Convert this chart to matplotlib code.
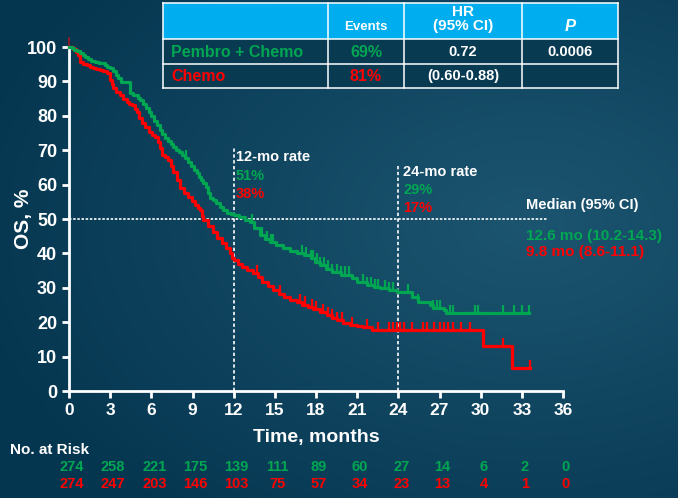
import numpy as np
import matplotlib
matplotlib.use("Agg")
import matplotlib.pyplot as plt
from matplotlib.patches import Rectangle

plt.rcParams['font.family'] = ['Liberation Sans', 'DejaVu Sans']

GREEN = '#00A651'
RED = '#FF0000'
WHITE = '#FFFFFF'
HEADER_BLUE = '#00AEEF'

# Kaplan-Meier step points (months, survival %)
pembro_t = [0, 0.2, 0.4, 0.6, 0.8, 1.0, 1.2, 1.4, 1.6, 1.9, 2.2, 2.6, 2.8, 3.0, 3.2, 3.4,
            3.6, 3.8, 4.45, 4.7, 5.0, 5.2, 5.4, 5.6, 5.8, 6.0, 6.2, 6.4, 6.6, 6.8, 7.0,
            7.2, 7.4, 7.6, 7.8, 8.0, 8.2, 8.45, 8.7, 8.9, 9.1, 9.3, 9.5, 9.65, 9.8, 9.95,
            10.1, 10.3, 10.5, 10.7, 11.0, 11.25, 11.5, 11.8, 12.0, 12.4, 12.8, 13.2, 13.5,
            13.9, 14.3, 14.65, 15.1, 15.6, 16.1, 16.6, 17.1, 17.6, 17.9, 18.3, 18.7, 19.2,
            19.8, 20.6, 21.0, 21.7, 22.2, 22.7, 23.3, 23.9, 25.0, 25.4, 26.3, 26.5, 27.3,
            27.5, 33.5]
pembro_s = [100, 99.6, 99.2, 98.8, 98.3, 97.8, 97.2, 96.5, 95.9, 95.6, 95.3, 94.8, 94.3, 93.9,
            93.0, 92.0, 91.0, 89.8, 86.6, 86.0, 85.2, 84.6, 83.5, 82.2, 81.0, 79.8, 78.6,
            77.3, 76.0, 74.8, 73.5, 72.6, 71.8, 71.0, 70.2, 69.4, 68.6, 67.7, 66.5, 65.3,
            64.3, 63.4, 62.2, 61.4, 60.5, 59.2, 57.6, 56.1, 55.4, 54.6, 53.5, 52.6, 51.7,
            51.4, 51.2, 50.7, 49.8, 49.0, 47.5, 45.3, 44.2, 43.3, 42.4, 41.6, 40.8, 40.1,
            39.4, 38.7, 37.6, 36.6, 35.6, 34.5, 33.8, 32.8, 31.7, 30.8, 30.3, 29.9, 29.3,
            28.8, 27.3, 25.9, 25.0, 24.1, 23.5, 22.7, 22.7]
chemo_t = [0, 0.3, 0.5, 0.65, 0.8, 1.0, 1.3, 1.5, 1.75, 2.0, 2.26, 2.5, 2.8, 3.0, 3.1, 3.2,
           3.45, 3.7, 3.95, 4.2, 4.4, 4.6, 4.8, 4.95, 5.1, 5.3, 5.55, 5.8, 6.05, 6.3, 6.5,
           6.65, 6.8, 7.0, 7.2, 7.4, 7.6, 7.85, 8.1, 8.4, 8.7, 8.95, 9.2, 9.4, 9.55, 9.7,
           9.8, 10.15, 10.5, 10.8, 11.15, 11.45, 11.7, 11.9, 12.0, 12.3, 12.6, 13.0, 13.4,
           13.75, 14.1, 14.5, 14.9, 15.3, 15.7, 16.1, 16.6, 17.0, 17.4, 17.8, 18.3, 18.8,
           19.15, 19.5, 20.0, 20.5, 21.0, 21.4, 22.1, 30.2, 32.3, 33.6]
chemo_s = [100, 99.4, 98.6, 97.7, 95.6, 95.2, 94.8, 94.3, 93.9, 93.6, 93.3, 92.9, 92.4, 90.4,
           89.2, 88.0, 87.0, 86.0, 85.0, 84.0, 83.5, 83.0, 82.0, 81.0, 79.5, 77.9, 76.6,
           75.3, 74.5, 73.8, 72.4, 70.5, 68.6, 67.9, 67.2, 65.4, 63.7, 61.3, 59.0, 57.7,
           56.4, 55.2, 54.0, 53.3, 52.6, 51.0, 49.7, 47.9, 46.2, 44.6, 43.0, 41.5, 40.1,
           38.8, 38.0, 37.0, 36.0, 35.1, 34.3, 33.0, 31.7, 30.5, 29.4, 28.3, 27.3, 26.5,
           25.9, 25.1, 24.4, 23.7, 23.0, 22.1, 21.3, 20.6, 19.9, 19.2, 18.9, 18.6, 17.7,
           13.1, 6.7, 6.7]

# Censoring times (months)
pembro_cens = [8.5, 13.3, 14.1, 14.4, 14.7, 14.9, 17.0, 17.3, 17.6, 17.8, 18.1, 18.3, 18.6,
               18.9, 19.2, 19.5, 19.8, 20.1, 20.4, 21.4, 21.7, 22.0, 22.3, 22.5, 23.0, 23.3,
               23.6, 24.7, 25.4, 26.5, 26.8, 27.0, 27.8, 28.0, 29.6, 29.8, 31.6, 32.4, 33.0, 33.5]
chemo_cens = [13.7, 15.4, 16.8, 17.2, 17.7, 18.0, 18.5, 18.9, 19.2, 19.5, 19.9, 20.6, 21.7,
              22.5, 23.3, 23.6, 23.9, 24.1, 24.4, 25.0, 25.8, 26.1, 26.6, 27.0, 27.3, 27.6,
              28.0, 28.6, 29.2, 31.6, 33.6]

# Number at risk
risk_times = [0, 3, 6, 9, 12, 15, 18, 21, 24, 27, 30, 33, 36]
risk_pembro = [274, 258, 221, 175, 139, 111, 89, 60, 27, 14, 6, 2, 0]
risk_chemo = [274, 247, 203, 146, 103, 75, 57, 34, 23, 13, 4, 1, 0]

xticks = list(range(0, 37, 3))
yticks = list(range(0, 101, 10))

W, H = 678, 498
fig = plt.figure(figsize=(W / 100, H / 100), dpi=100)

# Background gradient
bg = fig.add_axes([0, 0, 1, 1], zorder=-10)
yy, xx = np.mgrid[0:1:200j, 0:1:272j]
r = np.sqrt(((xx - 0.78) / 1.0) ** 2 + ((yy - 0.45) / 0.9) ** 2)
r = np.clip(r / 0.85, 0, 1)
c_in = np.array([0x1c, 0x55, 0x70]) / 255
c_out = np.array([0x05, 0x36, 0x50]) / 255
img = c_in[None, None, :] * (1 - r[..., None]) + c_out[None, None, :] * r[..., None]
bg.imshow(img, aspect='auto', extent=[0, 1, 0, 1], origin='upper')
bg.set_axis_off()

ax = fig.add_axes([69 / W, 1 - 391 / H, (563 - 69) / W, (391 - 47) / H])
ax.patch.set_alpha(0)
ax.set_xlim(0, 36)
ax.set_ylim(0, 100)

for s in ['top', 'right']:
    ax.spines[s].set_visible(False)
for s in ['left', 'bottom']:
    ax.spines[s].set_color(WHITE)
    ax.spines[s].set_linewidth(2)
ax.set_xticks(xticks)
ax.set_yticks(yticks)
ax.tick_params(colors=WHITE, width=2, length=5, labelsize=13)
ax.tick_params(axis='x', labelsize=12.5)
for lab in ax.get_xticklabels() + ax.get_yticklabels():
    lab.set_fontweight('bold')
ax.set_xlabel('Time, months', color=WHITE, fontsize=14, fontweight='bold', labelpad=8)
ax.set_ylabel('OS, %', color=WHITE, fontsize=15, fontweight='bold')
ax.yaxis.set_label_coords(-36 / 494, 0.5)

# Reference lines
ax.plot([12, 12], [0, 70.6], color=WHITE, lw=1.2, ls=(0, (2, 1.5)), clip_on=False)
ax.plot([24, 24], [0, 65.7], color=WHITE, lw=1.2, ls=(0, (2, 1.5)), clip_on=False)
ax.plot([0, 34.9], [50, 50], color=WHITE, lw=1.2, ls=(0, (1.5, 1)), clip_on=False)


def step_value(times, surv, t):
    idx = np.searchsorted(times, t, side='right') - 1
    return np.asarray(surv)[idx]


for times, surv, cens, col in [(chemo_t, chemo_s, chemo_cens, RED),
                               (pembro_t, pembro_s, pembro_cens, GREEN)]:
    ax.step(times, surv, where='post', color=col, lw=2.3, clip_on=False, zorder=3)
    cy = step_value(times, surv, cens)
    ax.vlines(cens, cy, cy + 2.4, color=col, lw=1.6, zorder=3, clip_on=False)

ax.vlines([0], [100], [103], color='#8B1A2A', lw=1.4, clip_on=False, zorder=2)

# Landmark and median annotations
def ftxt(x, y, s, color, size=10.5, **kw):
    fig.text(x / W, 1 - y / H, s, color=color, fontsize=size, fontweight='bold',
             va='center', **kw)

ftxt(236, 157, '12-mo rate', WHITE)
ftxt(236, 176, '51%', GREEN)
ftxt(236, 194, '38%', RED)
ftxt(403, 172, '24-mo rate', WHITE)
ftxt(403, 190, '29%', GREEN)
ftxt(403, 208, '17%', RED)
ftxt(526, 205, 'Median (95% CI)', WHITE)
ftxt(526, 236, '12.6 mo (10.2-14.3)', GREEN, size=11)
ftxt(526, 252, '9.8 mo (8.6-11.1)', RED, size=11)

# Number at risk
ftxt(10, 450, 'No. at Risk', WHITE, size=11)
for t, a, b in zip(risk_times, risk_pembro, risk_chemo):
    xp = ax.transData.transform((t, 0))[0] + 3
    fig.text(xp / W, 1 - 467 / H, str(a), color=GREEN, fontsize=10.5,
             fontweight='bold', ha='center', va='center')
    fig.text(xp / W, 1 - 484 / H, str(b), color=RED, fontsize=10.5,
             fontweight='bold', ha='center', va='center')

# Hazard ratio table
cols = [163, 328, 404, 522, 618]
rows = [3, 39, 64, 88]
tab = fig.add_axes([0, 0, 1, 1], zorder=5)
tab.set_xlim(0, W)
tab.set_ylim(H, 0)
tab.set_axis_off()
tab.add_patch(Rectangle((cols[0], rows[0]), cols[-1] - cols[0], rows[1] - rows[0],
                        facecolor=HEADER_BLUE, edgecolor='none'))
tab.add_patch(Rectangle((cols[0], rows[1]), cols[-1] - cols[0], rows[-1] - rows[1],
                        facecolor='#083a52', edgecolor='none'))
for x in cols:
    tab.plot([x, x], [rows[0], rows[-1]], color=WHITE, lw=1.1)
for y in rows:
    tab.plot([cols[0], cols[-1]], [y, y], color=WHITE, lw=1.1)

def cell(x, y, s, color, size=10.5, ha='center', **kw):
    tab.text(x, y, s, color=color, fontsize=size, fontweight='bold', ha=ha,
             va='center', **kw)

cell(366, 27, 'Events', WHITE, size=9.5)
cell(463, 12, 'HR', WHITE, size=11)
cell(463, 26, '(95% CI)', WHITE, size=11)
cell(570, 26, 'P', WHITE, size=12, style='italic')
cell(171, 52, 'Pembro + Chemo', GREEN, size=11.5, ha='left')
cell(366, 52, '69%', GREEN, size=11.5)
cell(463, 52, '0.72', WHITE, size=10.5)
cell(570, 52, '0.0006', WHITE, size=10.5)
cell(171, 76, 'Chemo', RED, size=11.5, ha='left')
cell(366, 76, '81%', RED, size=11.5)
cell(463, 76, '(0.60-0.88)', WHITE, size=10.5)

fig.savefig('out.png', dpi=100)
